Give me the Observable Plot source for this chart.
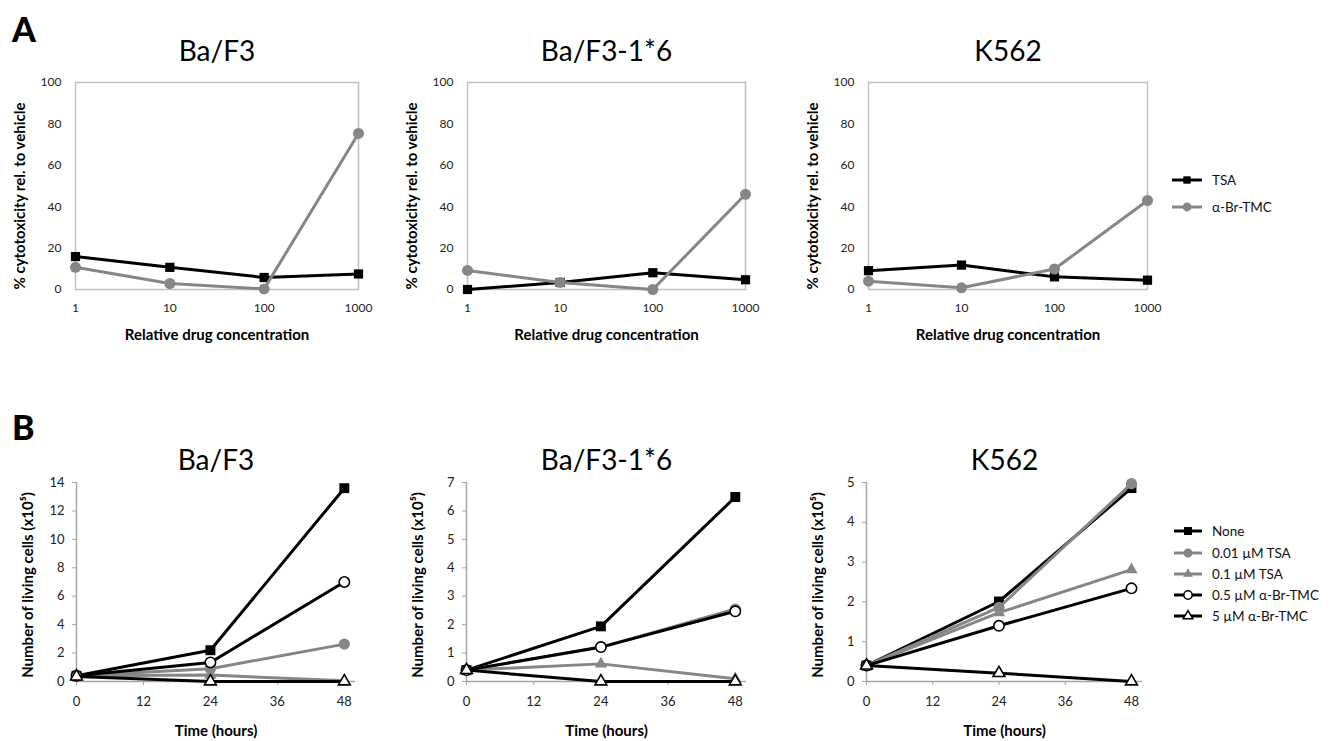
<!DOCTYPE html>
<html>
<head>
<meta charset="utf-8">
<script src="https://cdn.jsdelivr.net/npm/d3@7"></script>
<script src="https://cdn.jsdelivr.net/npm/@observablehq/plot@0.6"></script>
<style>
  body { margin: 0; background: #fff; font-family: Lato, "Open Sans", sans-serif; }
  #root { position: relative; width: 1332px; height: 741px; overflow: hidden; background: #fff; }
  .letter { font-weight: 900; font-size: 34px; line-height: 34px; color: #000; }
  .lg-row { position: absolute; height: 20px; display: flex; align-items: center; font-size: 13.5px; color: #111; white-space: nowrap; }
  .lg-row svg { margin-right: 10px; }
</style>
</head>
<body>
<div id="root"></div>
<script>
// ---------------- Data ----------------
const cellLines = ["Ba/F3", "Ba/F3-1*6", "K562"];

// Panel A: % cytotoxicity relative to vehicle vs relative drug concentration
const concentrations = [1, 10, 100, 1000];
const seriesA = ["TSA", "α-Br-TMC"];
const tsaBaF3 = [15.9, 10.7, 5.8, 7.5];
const tsaBaF316 = [0, 3.4, 8.1, 4.7];
const tsaK562 = [9.1, 11.8, 6.1, 4.5];
const abrBaF3 = [10.7, 2.9, 0.3, 75.4];
const abrBaF316 = [9.2, 3.4, 0, 46];
const abrK562 = [4.0, 0.8, 9.9, 43];
const yTicksA = [0, 20, 40, 60, 80, 100];

// Panel B: number of living cells (x10^5) vs time (hours)
const times = [0, 24, 48];
const xTicksB = [0, 12, 24, 36, 48];
const seriesB = ["None", "0.01 µM TSA", "0.1 µM TSA", "0.5 µM α-Br-TMC", "5 µM α-Br-TMC"];
const noneB = [[0.4, 2.2, 13.6], [0.4, 1.94, 6.49], [0.4, 2.01, 4.86]];
const tsa001B = [[0.4, 0.9, 2.63], [0.4, 1.2, 2.55], [0.4, 1.86, 4.97]];
const tsa01B = [[0.4, 0.45, 0.05], [0.4, 0.62, 0.1], [0.4, 1.73, 2.81]];
const abr05B = [[0.4, 1.34, 7.0], [0.4, 1.21, 2.47], [0.4, 1.40, 2.34]];
const abr5B = [[0.35, 0, 0], [0.4, 0, 0], [0.4, 0.21, 0]];
const yMaxB = [14, 7, 5];
const yStepB = [2, 1, 1];

// ---------------- Styles ----------------
const GRAY = "#868686";
const styleA = {
  "TSA": {stroke: "#000", symbol: "square", fill: "#000", dotStroke: "none", r: 5.2},
  "α-Br-TMC": {stroke: GRAY, symbol: "circle", fill: GRAY, dotStroke: "none", r: 5.5}
};
const styleB = {
  "None": {stroke: "#000", symbol: "square", fill: "#000", dotStroke: "none", r: 5.6},
  "0.01 µM TSA": {stroke: GRAY, symbol: "circle", fill: GRAY, dotStroke: "none", r: 5.6},
  "0.1 µM TSA": {stroke: GRAY, symbol: "triangle", fill: GRAY, dotStroke: "none", r: 4.6},
  "0.5 µM α-Br-TMC": {stroke: "#000", symbol: "circle", fill: "#fff", dotStroke: "#000", r: 5.2},
  "5 µM α-Br-TMC": {stroke: "#000", symbol: "triangle", fill: "#fff", dotStroke: "#000", r: 4.4}
};

const FONT = "Lato, 'Open Sans', sans-serif";
const root = document.getElementById("root");
function place(node, left, top) {
  node.style.position = "absolute";
  node.style.left = left + "px";
  node.style.top = top + "px";
  root.appendChild(node);
}

// ---------------- Panel A ----------------
const tsaA = [tsaBaF3, tsaBaF316, tsaK562];
const abrA = [abrBaF3, abrBaF316, abrK562];
const layoutA = [
  {frameLeft: 75, frameW: 283},
  {frameLeft: 467, frameW: 278},
  {frameLeft: 868, frameW: 279}
];

function panelA(i) {
  const rows = [];
  concentrations.forEach((c, j) => {
    rows.push({series: "TSA", x: c, y: tsaA[i][j]});
    rows.push({series: "α-Br-TMC", x: c, y: abrA[i][j]});
  });
  const mL = 75, mR = 10;
  const marks = [Plot.frame({stroke: "#c0c0c0", strokeWidth: 1.5})];
  for (const s of seriesA) {
    const st = styleA[s];
    const d = rows.filter(r => r.series === s);
    marks.push(Plot.line(d, {x: "x", y: "y", stroke: st.stroke, strokeWidth: 3}));
    marks.push(Plot.dot(d, {x: "x", y: "y", symbol: () => st.symbol, fill: st.fill, stroke: st.dotStroke, r: st.r}));
  }
  marks.push(
    Plot.axisX({ticks: concentrations, tickFormat: d => String(d), tickSize: 0, tickPadding: 14, fontSize: 12, fill: "#222", label: null}),
    Plot.axisY({ticks: yTicksA, tickFormat: d => String(d), tickSize: 0, tickPadding: 14, fontSize: 12, fill: "#222", label: null}),
    Plot.text([cellLines[i]], {text: d => d, frameAnchor: "top", lineAnchor: "middle", dy: -30, fontSize: 28, fill: "#000"}),
    Plot.text(["Relative drug concentration"], {text: d => d, frameAnchor: "bottom", lineAnchor: "middle", dy: 46, fontSize: 15, fontWeight: "bold", fill: "#000"}),
    Plot.text(["% cytotoxicity rel. to vehicle"], {text: d => d, frameAnchor: "left", textAnchor: "middle", lineAnchor: "middle", dx: -55, dy: 10, rotate: -90, fontSize: 15, fontWeight: "bold", fill: "#000"})
  );
  const chart = Plot.plot({
    width: mL + layoutA[i].frameW + mR,
    height: 350,
    marginLeft: mL, marginRight: mR, marginTop: 82, marginBottom: 61,
    x: {type: "log", domain: [1, 1000]},
    y: {domain: [0, 100]},
    symbol: {type: "identity"},
    style: {fontFamily: FONT, background: "transparent", overflow: "visible"},
    marks
  });
  place(chart, layoutA[i].frameLeft - mL, 0);
}

// ---------------- Panel B ----------------
const valuesB = [noneB, tsa001B, tsa01B, abr05B, abr5B];
const layoutB = [
  {frameLeft: 76, frameW: 279},
  {frameLeft: 466, frameW: 280},
  {frameLeft: 866, frameW: 276}
];

function panelB(i) {
  const mL = 76, mR = 10;
  const marks = [
    Plot.ruleX([0], {stroke: "#a6a6a6", strokeWidth: 1.5}),
    Plot.ruleY([0], {stroke: "#a6a6a6", strokeWidth: 1.5})
  ];
  const yTicks = d3.range(0, yMaxB[i] + 0.001, yStepB[i]);
  marks.push(
    Plot.axisX({ticks: xTicksB, tickFormat: d => String(d), tickSize: 4, tickPadding: 11, fontSize: 13, stroke: "#a6a6a6", fill: "#222", label: null}),
    Plot.axisY({ticks: yTicks, tickFormat: d => String(d), tickSize: 4, tickPadding: 8, fontSize: 13, stroke: "#a6a6a6", fill: "#222", label: null})
  );
  seriesB.forEach((s, k) => {
    const st = styleB[s];
    const d = times.map((t, j) => ({series: s, x: t, y: valuesB[k][i][j]}));
    marks.push(Plot.line(d, {x: "x", y: "y", stroke: st.stroke, strokeWidth: 3}));
    marks.push(Plot.dot(d, {x: "x", y: "y", symbol: () => st.symbol, fill: st.fill, stroke: st.dotStroke, strokeWidth: 1.6, r: st.r}));
  });
  marks.push(
    Plot.text([cellLines[i]], {text: d => d, frameAnchor: "top", lineAnchor: "middle", dy: -21, fontSize: 28, fill: "#000"}),
    Plot.text(["Time (hours)"], {text: d => d, frameAnchor: "bottom", lineAnchor: "middle", dy: 50, fontSize: 15, fontWeight: "bold", fill: "#000"}),
    Plot.text(["Number of living cells (x10⁵)"], {text: d => d, frameAnchor: "left", textAnchor: "middle", lineAnchor: "middle", dx: -48, dy: 3, rotate: -90, fontSize: 15, fontWeight: "bold", fill: "#000"})
  );
  const chart = Plot.plot({
    width: mL + layoutB[i].frameW + mR,
    height: 341,
    marginLeft: mL, marginRight: mR, marginTop: 82, marginBottom: 60,
    x: {domain: [0, 50]},
    y: {domain: [0, yMaxB[i]]},
    symbol: {type: "identity"},
    style: {fontFamily: FONT, background: "transparent", overflow: "visible"},
    marks
  });
  place(chart, layoutB[i].frameLeft - mL, 400);
}

[0, 1, 2].forEach(panelA);
[0, 1, 2].forEach(panelB);

// ---------------- Panel letters ----------------
function letter(t, left, top) {
  const d = document.createElement("div");
  d.className = "letter";
  d.textContent = t;
  place(d, left, top);
}
letter("A", 12, 12);
letter("B", 12, 410);

// ---------------- Legends ----------------
function legendRow(label, st, left, cy, lineW) {
  const row = document.createElement("div");
  row.className = "lg-row";
  const svg = d3.create("svg").attr("width", lineW).attr("height", 14);
  svg.append("line").attr("x1", 0).attr("x2", lineW).attr("y1", 7).attr("y2", 7)
    .attr("stroke", st.stroke).attr("stroke-width", 3);
  const sym = st.symbol === "square" ? d3.symbolSquare : st.symbol === "triangle" ? d3.symbolTriangle : d3.symbolCircle;
  const size = Math.PI * Math.pow(st.r * 0.8, 2);
  svg.append("path").attr("d", d3.symbol(sym, size)())
    .attr("transform", `translate(${lineW / 2},7)`)
    .attr("fill", st.fill).attr("stroke", st.dotStroke).attr("stroke-width", 1.5);
  row.appendChild(svg.node());
  const span = document.createElement("span");
  span.textContent = label;
  row.appendChild(span);
  place(row, left, cy - 10);
}
const legendAY = [180, 206.5];
seriesA.forEach((s, k) => legendRow(s, styleA[s], 1172, legendAY[k], 30));
const legendBY = [531, 552.5, 574, 595, 616];
seriesB.forEach((s, k) => legendRow(s, styleB[s], 1174, legendBY[k], 28));
</script>
</body>
</html>
